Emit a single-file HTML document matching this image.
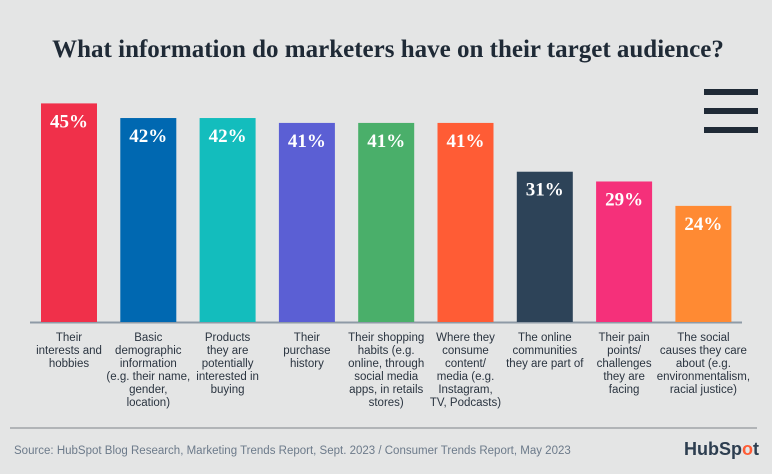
<!DOCTYPE html>
<html><head><meta charset="utf-8"><style>
body{margin:0;width:772px;height:469px;background:#e4e5e5;overflow:hidden;font-family:"Liberation Sans",sans-serif}
</style></head><body>
<svg width="772" height="469" id="c">
<text x="388" y="57" text-anchor="middle" font-family="Liberation Serif" font-weight="bold" font-size="25" fill="#1f2a36">What information do marketers have on their target audience?</text>
<g fill="#1f2a36">
<rect x="704" y="89" width="54" height="6"/><rect x="704" y="108" width="54" height="6"/><rect x="704" y="127" width="54" height="6"/></g>
<line x1="30" y1="322.5" x2="742" y2="322.5" stroke="#8e9aa6" stroke-width="2"/>
<line x1="10" y1="428" x2="757" y2="428" stroke="#a0a4a8" stroke-width="1.5"/>
<text x="14" y="454" font-size="11.5" fill="#6c7a8a">Source: HubSpot Blog Research, Marketing Trends Report, Sept. 2023 / Consumer Trends Report, May 2023</text>
<text x="684" y="455" font-size="18" font-weight="bold" fill="#2d3e50">HubSp<tspan fill="#ff5c35">o</tspan>t</text>
<g id="bars"></g>
</svg>
<script>
const categories=[["Their","interests and","hobbies"],["Basic","demographic","information","(e.g. their name,","gender,","location)"],["Products","they are","potentially","interested in","buying"],["Their","purchase","history"],["Their shopping","habits (e.g.","online, through","social media","apps, in retails","stores)"],["Where they","consume","content/","media (e.g.","Instagram,","TV, Podcasts)"],["The online","communities","they are part of"],["Their pain","points/","challenges","they are","facing"],["The social","causes they care","about (e.g.","environmentalism,","racial justice)"]];
const values=[45,42,42,41,41,41,31,29,24];
const colors=["#f0304a","#0068b1","#13bdbd","#5b5fd4","#4aaf6a","#ff5c35","#2d4358","#f5307a","#ff8a33"];
const ns="http://www.w3.org/2000/svg";
const g=document.getElementById('bars');
const base=323,k=4.88,x0=41,step=79.3,bw=56;
const y=v=>base-v*k;
values.forEach((v,i)=>{
 const x=x0+i*step;
 const r=document.createElementNS(ns,'rect');
 
 
 r.setAttribute('x',x);r.setAttribute('y',y(v));r.setAttribute('width',bw);r.setAttribute('height',base-1-y(v));r.setAttribute('fill',colors[i]);
 g.appendChild(r);
 const t=document.createElementNS(ns,'text');
 
 
 t.setAttribute('x',x+bw/2);t.setAttribute('y',y(v)+24);t.setAttribute('text-anchor','middle');
 t.setAttribute('font-family','Liberation Serif');t.setAttribute('font-weight','bold');t.setAttribute('font-size','19');t.setAttribute('fill','#fff');
 t.textContent=v+'%';g.appendChild(t);
 const l=document.createElementNS(ns,'text');
 
 
 l.setAttribute('text-anchor','middle');l.setAttribute('font-size','11.5');l.setAttribute('fill','#2a3440');
 categories[i].forEach((s,j)=>{const ts=document.createElementNS(ns,'tspan');ts.setAttribute('x',x+bw/2);ts.setAttribute('y',341+j*13);ts.textContent=s;l.appendChild(ts);});
 g.appendChild(l);
});
</script>
</body></html>
